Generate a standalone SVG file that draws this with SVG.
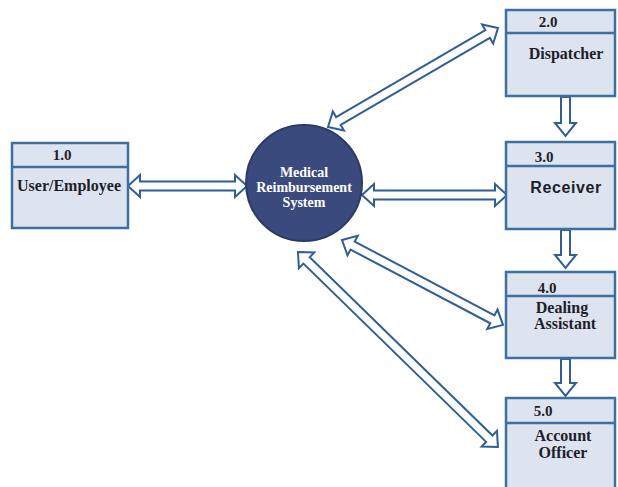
<svg xmlns="http://www.w3.org/2000/svg" width="618" height="487" viewBox="0 0 618 487">
<style>
.box{fill:#dde3ef;stroke:#3d6fa3;stroke-width:2.5}
.div{stroke:#3d6fa3;stroke-width:2.5}
.arr{fill:#ffffff;stroke:#2f5f93;stroke-width:2;stroke-linejoin:miter}
.t{font-family:"Liberation Serif","Times New Roman",serif;font-weight:bold;fill:#1e1e2a;text-anchor:middle}
.s{font-family:"Liberation Sans",Arial,sans-serif;font-weight:bold;fill:#1e1e2a;text-anchor:middle}
.c{font-family:"Liberation Serif","Times New Roman",serif;font-weight:bold;fill:#ffffff;text-anchor:middle;font-size:14px}
.n{font-size:15px}
.l{font-size:16px}
</style>
<rect width="618" height="487" fill="#ffffff"/>
<g id="connectors">
<polygon class="arr" transform="translate(128,186)" points="0,0 12,-11 12,-4.5 107,-4.5 107,-11 119,0 107,11 107,4.5 12,4.5 12,11"/>
<polygon class="arr" transform="translate(328,127) rotate(-30.2)" points="0,0 12,-11 12,-4.5 184.7,-4.5 184.7,-11 196.7,0 184.7,11 184.7,4.5 12,4.5 12,11"/>
<polygon class="arr" transform="translate(362,195)" points="0,0 12,-11 12,-4.5 133,-4.5 133,-11 145,0 133,11 133,4.5 12,4.5 12,11"/>
<polygon class="arr" transform="translate(342,240) rotate(27.8)" points="0,0 12,-11 12,-4.5 170,-4.5 170,-11 182,0 170,11 170,4.5 12,4.5 12,11"/>
<polygon class="arr" transform="translate(298,252) rotate(44.3)" points="0,0 12,-11 12,-4.5 267.3,-4.5 267.3,-11 279.3,0 267.3,11 267.3,4.5 12,4.5 12,11"/>
<polygon class="arr" transform="translate(565.5,97) rotate(90)" points="0,-4.5 26,-4.5 26,-10.5 39,0 26,10.5 26,4.5 0,4.5"/>
<polygon class="arr" transform="translate(565.5,230) rotate(90)" points="0,-4.5 25,-4.5 25,-10.5 38,0 25,10.5 25,4.5 0,4.5"/>
<polygon class="arr" transform="translate(565.5,359) rotate(90)" points="0,-4.5 24,-4.5 24,-10.5 37,0 24,10.5 24,4.5 0,4.5"/>
</g>
<g id="node-1">
<rect class="box" x="12" y="143" width="116" height="85"/>
<line class="div" x1="12" y1="167" x2="128" y2="167"/>
<text class="t n" x="62" y="160">1.0</text>
<text class="t l" x="69" y="191">User/Employee</text>
</g>
<g id="system">
<circle cx="304" cy="183" r="58" fill="#3a4a7c" stroke="#2c3a66" stroke-width="2"/>
<text class="c" x="304" y="177">Medical</text>
<text class="c" x="304" y="192">Reimbursement</text>
<text class="c" x="304" y="207">System</text>
</g>
<g id="node-2">
<rect class="box" x="506" y="10" width="109" height="86"/>
<line class="div" x1="506" y1="33" x2="615" y2="33"/>
<text class="t n" x="548" y="27">2.0</text>
<text class="t l" x="566" y="59">Dispatcher</text>
</g>
<g id="node-3">
<rect class="box" x="506" y="142" width="109" height="87"/>
<line class="div" x1="506" y1="166" x2="615" y2="166"/>
<text class="t n" x="544" y="162">3.0</text>
<text class="s" x="566" y="193" font-size="16" letter-spacing="0.6">Receiver</text>
</g>
<g id="node-4">
<rect class="box" x="506" y="272" width="109" height="86"/>
<line class="div" x1="506" y1="296" x2="615" y2="296"/>
<text class="t n" x="547" y="293">4.0</text>
<text class="t l" x="562" y="313">Dealing</text>
<text class="t l" x="565" y="329">Assistant</text>
</g>
<g id="node-5">
<rect class="box" x="506" y="398" width="109" height="95"/>
<line class="div" x1="506" y1="423" x2="615" y2="423"/>
<text class="t n" x="543" y="416">5.0</text>
<text class="t l" x="563" y="441">Account</text>
<text class="t l" x="563" y="458">Officer</text>
</g>
</svg>
